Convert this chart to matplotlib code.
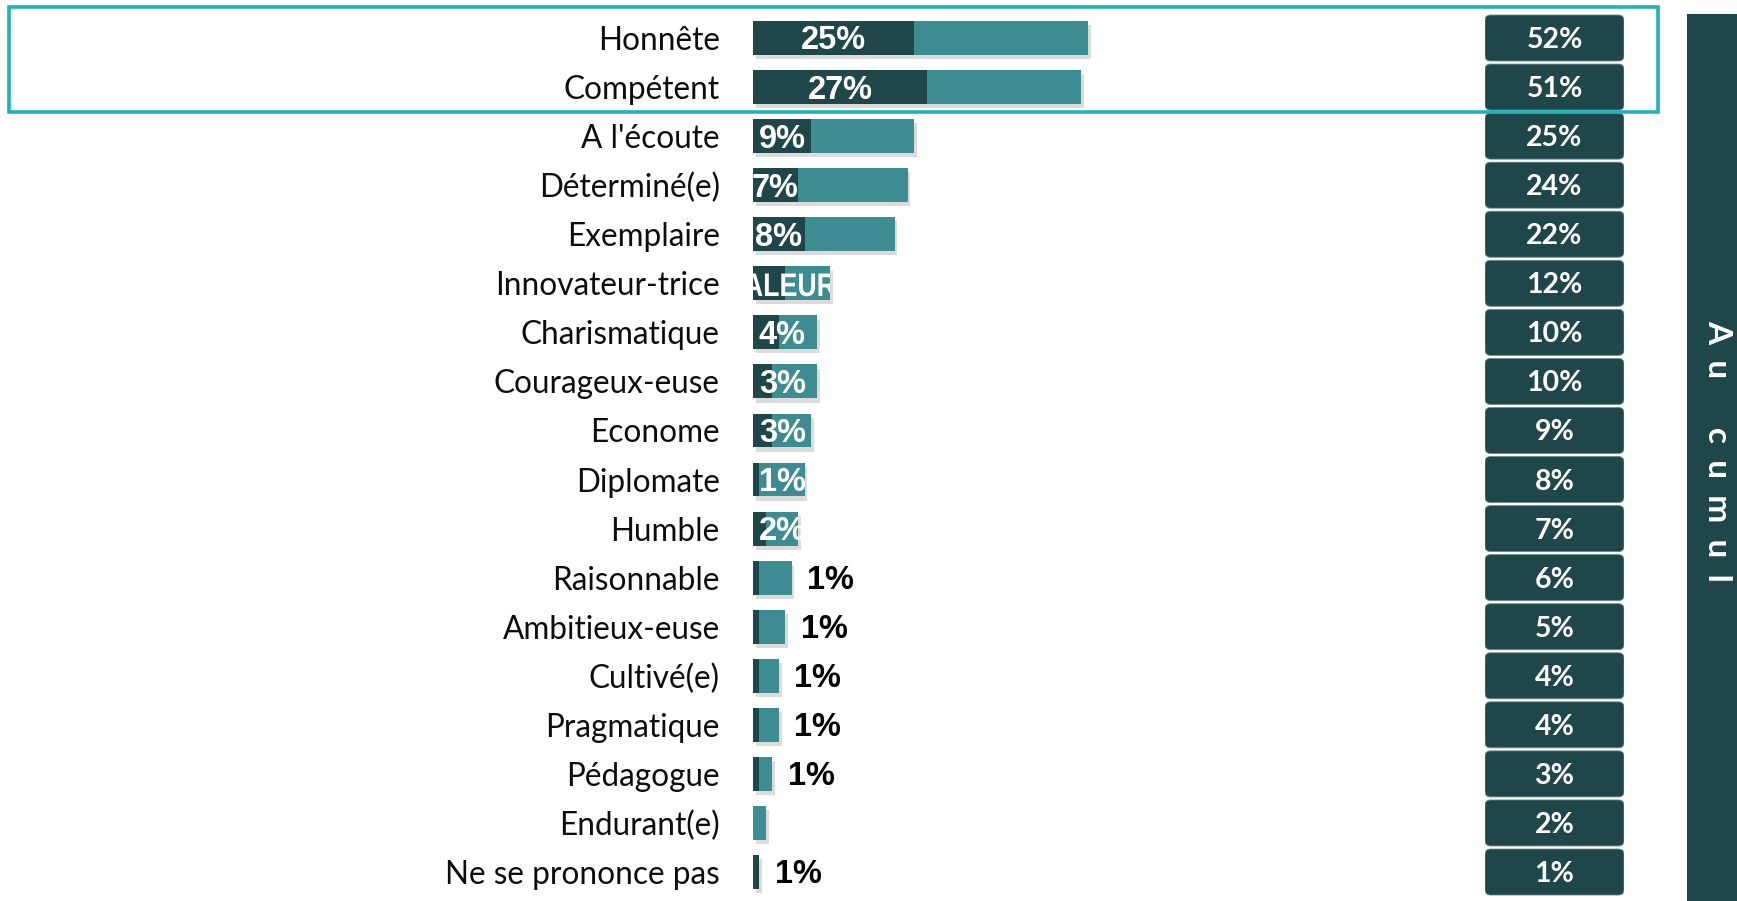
import matplotlib
matplotlib.use("Agg")
import matplotlib.pyplot as plt
import matplotlib.patheffects as pe
from matplotlib.patches import Rectangle, FancyBboxPatch, PathPatch
from matplotlib.textpath import TextPath
from matplotlib.font_manager import FontProperties
from matplotlib.transforms import Affine2D

# Données (en %)
categories = ["Honnête", "Compétent", "A l'écoute", "Déterminé(e)", "Exemplaire",
              "Innovateur-trice", "Charismatique", "Courageux-euse", "Econome",
              "Diplomate", "Humble", "Raisonnable", "Ambitieux-euse", "Cultivé(e)",
              "Pragmatique", "Pédagogue", "Endurant(e)", "Ne se prononce pas"]
en_premier = [25, 27, 9, 7, 8, 5, 4, 3, 3, 1, 2, 1, 1, 1, 1, 1, 0, 1]
au_cumul = [52, 51, 25, 24, 22, 12, 10, 10, 9, 8, 7, 6, 5, 4, 4, 3, 2, 1]
# libellé affiché sur la barre et son placement
bar_labels = ["25%", "27%", "9%", "7%", "8%", "[VALEUR]", "4%", "3%", "3%", "1%", "2%",
              "1%", "1%", "1%", "1%", "1%", "", "1%"]
label_mode = ["center"] * 5 + ["clip"] + ["base"] * 5 + ["out"] * 5 + ["none", "out"]

DARK = "#1f474a"
LIGHT = "#3d8c92"
CYAN = "#1db3b8"

W, H = 1737, 901
DPI = 100
fig = plt.figure(figsize=(W / DPI, H / DPI), dpi=DPI)

# axe principal des barres : 0% au pixel 753, environ 6.44 px par %
x0_px = 753
px_per_pct = 6.44
row_px = 49.06
top_px = 38
bar_h = 0.69
ax = fig.add_axes([x0_px / W, 0, (W - x0_px) / W, 1])
ax.set_xlim(0, (W - x0_px) / px_per_pct)
ax.set_ylim((H - top_px) / row_px, -top_px / row_px)
for s in ax.spines.values():
    s.set_visible(False)
ax.set_xticks([])
ax.set_yticks(range(len(categories)))
ax.set_yticklabels(categories, fontsize=22.7, family="Lato", color="#0d0d0d")
ax.tick_params(axis="y", length=0, pad=24)

shadow = [pe.SimplePatchShadow(offset=(2, -3), alpha=0.3, shadow_rgbFace="#888888"), pe.Normal()]

n = len(categories)
ys = list(range(n))
total_bars = ax.barh(ys, au_cumul, height=bar_h, color=LIGHT, zorder=2)
for b in total_bars:
    b.set_path_effects(shadow)
ax.barh(ys, en_premier, height=bar_h, color=DARK, zorder=3)

LABEL_PT = 23.5
for i in range(n):
    mode = label_mode[i]
    if mode == "none":
        continue
    kw = dict(fontsize=LABEL_PT, family="Liberation Sans", weight="bold", va="center", zorder=5)
    if mode == "center":
        ax.text(en_premier[i] / 2, i + 0.06, bar_labels[i], ha="center", color="white", **kw)
    elif mode == "clip":
        # libellé "[VALEUR]" en police étroite, coupé par la barre
        size_px = LABEL_PT * DPI / 72
        tp = TextPath((0, 0), bar_labels[i], size=size_px,
                      prop=FontProperties(family="Liberation Sans", weight="bold"))
        ext = tp.get_extents()
        xd, yd = ax.transData.transform((en_premier[i] - 0.5, i))
        tr = (Affine2D().translate(-(ext.x0 + ext.x1) / 2, -0.716 * size_px / 2 - 1)
              .scale(0.82, 1).translate(xd, yd))
        pp = PathPatch(tp, transform=tr, facecolor="white", edgecolor="none", zorder=5)
        ax.add_patch(pp)
        pp.set_clip_path(total_bars[i])
    elif mode == "base":
        ax.text(0.9, i + 0.06, bar_labels[i], ha="left", color="white",
                clip_on=True, clip_path=total_bars[i], **kw)
    else:
        ax.text(au_cumul[i] + 2.4, i + 0.06, bar_labels[i], ha="left", color="black", **kw)

# colonne "au cumul" : pastilles arrondies
bx0, bx1 = 1485, 1624
axb = fig.add_axes([bx0 / W, 0, (bx1 - bx0) / W, 1])
axb.set_xlim(0, 1)
axb.set_ylim(ax.get_ylim())
axb.axis("off")
box_h = 46 / row_px
aspect = (bx1 - bx0) / row_px
for i, v in enumerate(au_cumul):
    p = FancyBboxPatch((0, i - box_h / 2), 1, box_h,
                       boxstyle="round,pad=0,rounding_size=0.04",
                       mutation_aspect=aspect, facecolor=DARK, edgecolor="#6b8a8c",
                       linewidth=0.6)
    axb.add_patch(p)
    axb.text(0.5, i + 0.04, f"{v}%", ha="center", va="center", color="white",
             fontsize=20.5, family="Lato", weight="bold")

# cadre de mise en avant des deux premiers items
fig.patches.append(Rectangle((9 / W, 1 - 112 / H), (1658 - 9) / W, (112 - 7) / H,
                             transform=fig.transFigure, fill=False, edgecolor=CYAN,
                             linewidth=2.6, zorder=10))

# bandeau vertical à droite
fig.patches.append(Rectangle((1687 / W, 0), (W - 1687) / W, 1 - 14 / H,
                             transform=fig.transFigure, facecolor=DARK, edgecolor="none"))
fig.text(1718 / W, 1 - 451 / H, "A  u      c  u  m  u  l", rotation=-90,
         ha="center", va="center", color="white", fontsize=24, family="Lato", weight="bold")

fig.savefig("out.png", dpi=DPI)
